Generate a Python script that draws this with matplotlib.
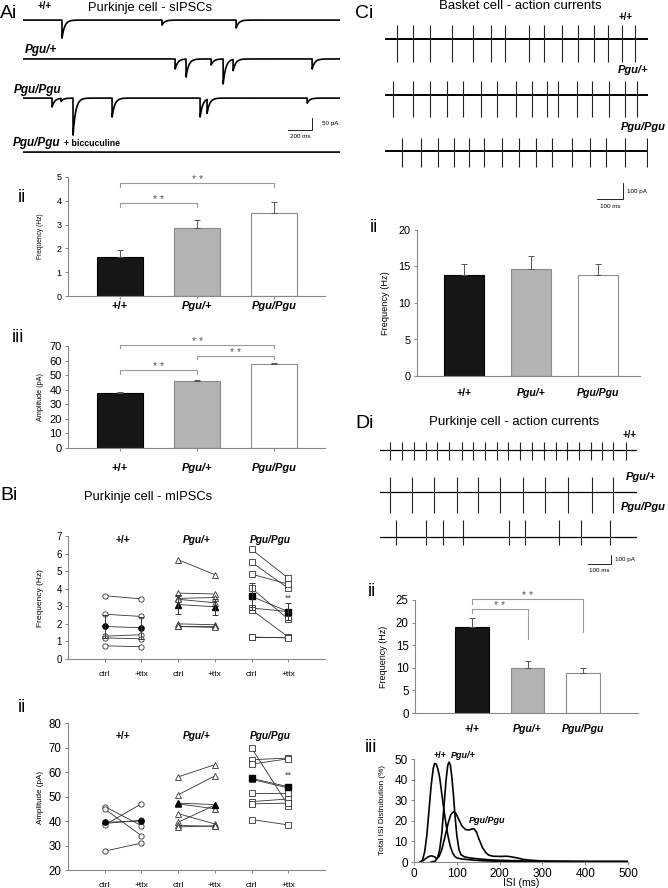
import numpy as np
import matplotlib
matplotlib.use("Agg")
import matplotlib.pyplot as plt
import matplotlib.transforms as mtransforms

plt.rcParams["font.family"] = ["Liberation Sans", "DejaVu Sans"]

W, H = 668, 888

genotypes = ["+/+", "Pgu/+", "Pgu/Pgu"]
bar_colors = ["#161616", "#b3b3b3", "white"]
bar_edges = ["black", "#8c8c8c", "#8c8c8c"]

# Ai - sIPSC traces, event times (ms) and amplitudes (pA)
sipsc_wt_t = [325, 1158, 1775]
sipsc_wt_a = [75, 21, 33]
sipsc_het_t = [1267, 1358, 1567, 1667, 1750, 2408]
sipsc_het_a = [42, 75, 25, 104, 46, 42]
sipsc_hom_t = [242, 317, 417, 742, 1475, 1533, 2367]
sipsc_hom_a = [37, 12, 154, 79, 79, 58, 21]
sipsc_bic_t = []
sipsc_bic_a = []

# Aii / Aiii
sipsc_freq = [1.65, 2.85, 3.5]
sipsc_freq_err = [0.27, 0.33, 0.45]
sipsc_amp = [38.0, 46.0, 57.5]
sipsc_amp_err = [0.6, 0.5, 0.6]

# Bi - mIPSC frequency (Hz), ctrl vs +ttx
mfreq_wt_ctrl = [3.6, 2.55, 1.3, 1.2, 0.75]
mfreq_wt_ttx = [3.42, 2.42, 1.38, 1.15, 0.7]
mfreq_het_ctrl = [5.65, 3.75, 3.45, 3.4, 2.0, 1.9, 1.85]
mfreq_het_ttx = [4.8, 3.7, 3.5, 3.2, 1.95, 1.9, 1.8]
mfreq_hom_ctrl = [6.24, 5.51, 4.83, 4.03, 2.9, 2.8, 1.28, 1.25]
mfreq_hom_ttx = [4.6, 4.03, 4.26, 2.27, 2.7, 1.25, 1.28, 1.2]
mfreq_mean = [[1.85, 1.78], [3.1, 2.97], [3.56, 2.7]]
mfreq_sem = [[0.64, 0.62], [0.55, 0.45], [0.76, 0.5]]

# Bii - mIPSC amplitude (pA)
mamp_wt_ctrl = [45.9, 44.9, 39.0, 38.4, 27.7]
mamp_wt_ttx = [38.1, 34.0, 40.3, 47.0, 31.0]
mamp_het_ctrl = [58.0, 50.7, 47.0, 43.0, 39.5, 38.2, 37.6]
mamp_het_ttx = [63.0, 58.4, 45.0, 38.8, 46.5, 37.8, 38.0]
mamp_hom_ctrl = [69.8, 65.0, 63.2, 57.0, 51.6, 47.9, 47.0, 40.6]
mamp_hom_ttx = [46.3, 65.7, 65.4, 53.5, 51.6, 49.0, 47.3, 38.4]
mamp_mean = [[39.5, 40.0], [47.3, 46.7], [57.4, 54.0]]

# Ci - basket cell spike times (ms)
bc_wt = [46, 108, 173, 258, 338, 408, 462, 554, 612, 681, 742, 804, 858, 912, 962]
bc_het = [31, 108, 173, 238, 300, 369, 431, 504, 565, 623, 665, 738, 796, 862, 923, 969]
bc_hom = [65, 138, 204, 265, 323, 381, 450, 515, 581, 642, 719, 788, 850, 923, 1008]
basket_freq = [13.9, 14.6, 13.8]
basket_freq_err = [1.45, 1.8, 1.6]

# Di - Purkinje cell spike times (ms)
pc_wt = [43, 97, 148, 200, 249, 301, 355, 406, 457, 507, 558, 609, 660, 713, 764,
         814, 865, 916, 967, 1014, 1070]
pc_het = [43, 138, 235, 333, 427, 522, 623, 717, 816, 920, 1014]
pc_hom = [70, 200, 275, 362, 562, 630, 778, 873, 1000]
pc_freq = [19.0, 9.9, 8.9]
pc_freq_err = [2.1, 1.7, 1.0]

# Diii - ISI distributions
isi_wt_ms = [15, 20, 25, 30, 35, 40, 45, 48, 52, 56, 60, 65, 70, 75, 80, 85, 90, 95,
             100, 110, 120, 140, 160, 200, 250, 300, 400, 500]
isi_wt_pct = [0, 1, 5, 13, 25, 37, 45.5, 47.8, 47.5, 45, 41, 33, 25, 18, 12, 7.5, 4.5,
              2.8, 2.0, 1.5, 1.3, 0.9, 0.6, 0.3, 0.2, 0.1, 0.1, 0.1]
isi_het_ms = [40, 50, 55, 60, 65, 70, 75, 79, 82, 85, 88, 92, 96, 100, 105, 110, 118,
              130, 150, 180, 220, 260, 300, 400, 500]
isi_het_pct = [0, 0.5, 2, 6, 14, 27, 40, 47, 48.5, 47, 42, 33, 22, 13, 6, 3.5, 2.5, 2,
               1.5, 1.0, 0.7, 0.5, 0.3, 0.2, 0.2]
isi_hom_ms = [14, 20, 28, 35, 41, 47, 52, 58, 65, 72, 80, 86, 92, 98, 105, 112, 120,
              128, 135, 140, 146, 152, 160, 168, 175, 185, 200, 215, 225, 240, 255,
              270, 300, 350, 400, 500]
isi_hom_pct = [0, 0.5, 1.8, 2.7, 3.0, 2.6, 1.8, 2.5, 6, 12, 19, 23, 24.4, 23.5, 20.5,
               17.5, 15.8, 15.5, 16, 16.2, 14.5, 11, 7, 4.5, 3.3, 2.8, 2.7, 2.8, 2.6,
               2.0, 1.3, 0.9, 0.5, 0.4, 0.3, 0.3]

fig = plt.figure(figsize=(W / 100, H / 100), dpi=100)


def add_ax(l, t, r, b):
    return fig.add_axes([l / W, 1 - b / H, (r - l) / W, (b - t) / H])


def ftext(x, y, s, **kw):
    kw.setdefault("ha", "center")
    kw.setdefault("va", "center")
    fig.text(x / W, 1 - y / H, s, **kw)


def geno_text(x, y, s, size=8.5, **kw):
    style = "normal" if s == "+/+" else "italic"
    ftext(x, y, s, fontsize=size, fontweight="bold", style=style, **kw)


def style_axes(ax, tick_size=7.5):
    for side in ["top", "right"]:
        ax.spines[side].set_visible(False)
    for side in ["left", "bottom"]:
        ax.spines[side].set_color("#888888")
        ax.spines[side].set_linewidth(0.8)
    ax.tick_params(labelsize=tick_size, length=2.5, width=0.7, color="#888888", pad=2)


def bar_panel(box, vals, errs, ylim, yticks, xlim, tick_size=7.5, xticks=True):
    ax = add_ax(*box)
    x = np.arange(3)
    ax.bar(x, vals, width=0.6, color=bar_colors, edgecolor=bar_edges, linewidth=0.8, zorder=2)
    ax.errorbar(x, vals, yerr=[np.zeros(3), errs], fmt="none", ecolor="#555555",
                elinewidth=0.7, capsize=2, capthick=0.7, zorder=3)
    ax.set_xlim(*xlim)
    ax.set_ylim(*ylim)
    ax.set_yticks(yticks)
    if xticks:
        ax.set_xticks(x)
    else:
        ax.set_xticks([])
    ax.set_xticklabels([])
    style_axes(ax, tick_size)
    return ax


def bracket(ax, x0, x1, y, y0, y1):
    ax.plot([x0, x0, x1, x1], [y0, y, y, y1], color="#9a9a9a", lw=0.8, clip_on=False, zorder=4)
    ax.annotate("* *", ((x0 + x1) / 2, y), xytext=(0, -1.5), textcoords="offset points",
                ha="center", va="bottom", fontsize=7.5, color="#555555", annotation_clip=False)


def cat_labels(ax, ypx, size=8):
    tr = mtransforms.blended_transform_factory(ax.transData, fig.transFigure)
    for i, g in enumerate(genotypes):
        style = "normal" if g == "+/+" else "italic"
        ax.text(i, 1 - ypx / H, g, transform=tr, ha="center", va="center",
                fontsize=size, fontweight="bold", style=style)


# ---------------- Ai traces ----------------
ax = add_ax(23, 10, 340, 160)
ax.axis("off")
t = np.arange(0, 2640, 0.5)
for times, amps, base in [(sipsc_wt_t, sipsc_wt_a, -42), (sipsc_het_t, sipsc_het_a, -204),
                          (sipsc_hom_t, sipsc_hom_a, -367), (sipsc_bic_t, sipsc_bic_a, -592)]:
    y = np.full_like(t, float(base))
    for t0, a in zip(times, amps):
        m = t >= t0
        y[m] -= a * np.exp(-(t[m] - t0) / 22)
    ax.plot(t, y, color="black", lw=1.2)
ax.plot([2208, 2408, 2408], [-500, -500, -450], color="black", lw=0.6)
ax.set_xlim(0, 2640)
ax.set_ylim(-625, 0)

ftext(0, 13, "Ai", fontsize=14, ha="left")
geno_text(45, 6, "+/+", 7)
ftext(150, 8, "Purkinje cell - sIPSCs", fontsize=9.3)
geno_text(41, 50, "Pgu/+")
geno_text(38, 90, "Pgu/Pgu")
geno_text(13, 143, "Pgu/Pgu", ha="left")
ftext(64, 144, "+ biccuculine", fontsize=6.3, fontweight="bold", ha="left")
ftext(322, 124, "50 pA", fontsize=4.5, ha="left")
ftext(300, 136, "200 ms", fontsize=4.5)

# ---------------- Aii ----------------
ax = bar_panel((68, 177, 325, 296), sipsc_freq, sipsc_freq_err, (0, 5), range(0, 6),
               (-0.675, 2.66), tick_size=6.5)
bracket(ax, 0, 1, 3.9, 3.74, 3.74)
bracket(ax, 0, 2, 4.75, 4.58, 4.58)
cat_labels(ax, 306)
ftext(18, 197, "ii", fontsize=13, ha="left")
ftext(41, 236, "Frequency (Hz)", fontsize=4.8, rotation=90)

# ---------------- Aiii ----------------
ax = bar_panel((68, 346, 325, 448), sipsc_amp, sipsc_amp_err, (0, 70), range(0, 71, 10),
               (-0.675, 2.66), tick_size=8)
bracket(ax, 0, 1, 53.5, 50.8, 50.8)
bracket(ax, 0, 2, 70.7, 68.6, 68.6)
bracket(ax, 1, 2, 63.1, 61.0, 61.0)
cat_labels(ax, 468)
ftext(12, 337, "iii", fontsize=13, ha="left")
ftext(40, 397, "Amplitude (pA)", fontsize=5.2, rotation=90)

# ---------------- Bi / Bii ----------------
markers = ["o", "^", "s"]


def pair_panel(box, groups, means, sems, ylim, yticks, star_y, label_y, tick_size):
    ax = add_ax(*box)
    for gi, (ctrl, ttx) in enumerate(groups):
        xc, xt = 1 + 2 * gi, 2 + 2 * gi
        for a, b in zip(ctrl, ttx):
            ax.plot([xc, xt], [a, b], color="#333333", lw=0.6, marker=markers[gi], ms=3.8,
                    mfc="white", mec="#333333", mew=0.6, zorder=2)
        ax.plot([xc, xt], means[gi], color="#333333", lw=0.6, marker=markers[gi], ms=3.8,
                mfc="black", mec="black", zorder=3)
        if sems is not None:
            ax.errorbar([xc, xt], means[gi], yerr=sems[gi], fmt="none", ecolor="#333333",
                        elinewidth=0.7, capsize=2, capthick=0.7, zorder=3)
        style = "normal" if gi == 0 else "italic"
        ax.text(xc + 0.5, label_y, genotypes[gi], ha="center", va="center", fontsize=7.3,
                fontweight="bold", style=style)
    ax.text(6, star_y, "**", ha="center", va="center", fontsize=6.5, color="#444444")
    ax.set_xlim(0, 7)
    ax.set_ylim(*ylim)
    ax.set_yticks(yticks)
    ax.set_xticks(range(1, 7))
    ax.set_xticklabels(["ctrl", "+ttx"] * 3)
    style_axes(ax, tick_size)
    ax.tick_params(axis="x", pad=6, labelsize=6)
    return ax


pair_panel((68, 536, 325, 659),
           [(mfreq_wt_ctrl, mfreq_wt_ttx), (mfreq_het_ctrl, mfreq_het_ttx),
            (mfreq_hom_ctrl, mfreq_hom_ttx)],
           mfreq_mean, mfreq_sem, (0, 7), range(0, 8), 3.45, 6.8, 7)
ftext(0, 495, "Bi", fontsize=14, ha="left")
ftext(148, 497, "Purkinje cell - mIPSCs", fontsize=9.3)
ftext(40, 598, "Frequency (Hz)", fontsize=6, rotation=90)

pair_panel((68, 723, 325, 870),
           [(mamp_wt_ctrl, mamp_wt_ttx), (mamp_het_ctrl, mamp_het_ttx),
            (mamp_hom_ctrl, mamp_hom_ttx)],
           mamp_mean, None, (20, 80), range(20, 81, 10), 58.5, 74.6, 8.3)
ftext(18, 707, "ii", fontsize=13, ha="left")
ftext(40, 797, "Amplitude (pA)", fontsize=5.8, rotation=90)

# ---------------- Ci traces ----------------
ax = add_ax(385, 15, 648, 210)
ax.axis("off")
for times, base, up, down in [(bc_wt, -150, 87, 144), (bc_het, -500, 87, 137),
                              (bc_hom, -850, 81, 100)]:
    ax.plot([0, 1012], [base, base], color="black", lw=1.4)
    ax.vlines(times, base - down, base + up, color="#222222", lw=0.8)
ax.plot([815, 915, 915], [-1150, -1150, -1050], color="black", lw=0.6)
ax.set_xlim(0, 1012)
ax.set_ylim(-1219, 0)

ftext(355, 13, "Ci", fontsize=14, ha="left")
ftext(520, 6, "Basket cell - action currents", fontsize=9.5)
geno_text(626, 17, "+/+", 7)
geno_text(648, 70, "Pgu/+", 8, ha="right")
geno_text(666, 127, "Pgu/Pgu", 8, ha="right")
ftext(627, 191, "100 pA", fontsize=4.5, ha="left")
ftext(610, 206, "100 ms", fontsize=4.5)

# ---------------- Cii ----------------
ax = bar_panel((417, 230, 640, 376), basket_freq, basket_freq_err, (0, 20), range(0, 21, 5),
               (-0.70, 2.63), xticks=False, tick_size=7.8)
cat_labels(ax, 393, 7.6)
ftext(370, 227, "ii", fontsize=13, ha="left")
ftext(386, 303, "Frequency (Hz)", fontsize=6.7, rotation=90)

# ---------------- Di traces ----------------
ax = add_ax(380, 430, 637, 575)
ax.axis("off")
for times, base, up, down in [(pc_wt, -222, 89, 111), (pc_het, -689, 167, 233),
                              (pc_hom, -1189, 189, 89)]:
    ax.plot([0, 1117], [base, base], color="black", lw=0.9)
    ax.vlines(times, base - down, base + up, color="#222222", lw=0.8)
ax.plot([904, 1004, 1004], [-1489, -1489, -1389], color="black", lw=0.6)
ax.set_xlim(0, 1117)
ax.set_ylim(-1611, 0)

ftext(355, 423, "Di", fontsize=14, ha="left")
ftext(514, 422, "Purkinje cell - action currents", fontsize=9.5)
geno_text(630, 435, "+/+", 7)
geno_text(656, 477, "Pgu/+", 8, ha="right")
geno_text(666, 507, "Pgu/Pgu", 8, ha="right")
ftext(615, 560, "100 pA", fontsize=4.5, ha="left")
ftext(599, 570, "100 ms", fontsize=4.5)

# ---------------- Dii ----------------
ax = bar_panel((415, 600, 638, 713), pc_freq, pc_freq_err, (0, 25), range(0, 26, 5),
               (-1.03, 2.99), xticks=False, tick_size=8.3)
bracket(ax, 0, 1, 23.0, 22.2, 16.3)
bracket(ax, 0, 2, 25.2, 24.2, 17.9)
cat_labels(ax, 729, 7.6)
ftext(368, 592, "ii", fontsize=13, ha="left")
ftext(383, 657, "Frequency (Hz)", fontsize=6.5, rotation=90)

# ---------------- Diii ----------------
ax = add_ax(414, 759, 628, 862)
ax.plot(isi_wt_ms, isi_wt_pct, color="black", lw=1.2)
ax.plot(isi_het_ms, isi_het_pct, color="black", lw=1.2)
ax.plot(isi_hom_ms, isi_hom_pct, color="black", lw=1.2)
ax.set_xlim(0, 500)
ax.set_ylim(0, 50)
ax.set_xticks(range(0, 501, 100))
ax.set_yticks(range(0, 51, 10))
style_axes(ax, 8.5)
ftext(521, 883, "ISI (ms)", fontsize=7.5)
ftext(365, 748, "iii", fontsize=13, ha="left")
ftext(383, 810, "Total ISI Distrubution (%)", fontsize=5.9, rotation=90)
geno_text(440, 756, "+/+", 6.5)
geno_text(463, 756, "Pgu/+", 6.5)
geno_text(487, 820, "Pgu/Pgu", 6.5)

fig.savefig("out.png", dpi=100)
